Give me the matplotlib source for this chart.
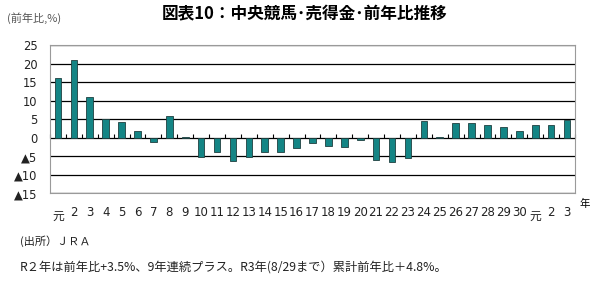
import matplotlib
matplotlib.use("Agg")
import matplotlib.pyplot as plt
import numpy as np

plt.rcParams['font.family'] = ['Noto Sans CJK JP', 'DejaVu Sans']

# Categories: Heisei 1..30, Reiwa 1..3
years = ["元"] + [str(i) for i in range(2, 31)] + ["元", "2", "3"]
yoy = [16.1, 21.0, 11.0, 5.0, 4.2, 1.8, -1.2, 5.9, 0.3, -5.2,
       -3.8, -6.3, -5.2, -3.9, -3.9, -2.7, -1.3, -2.2, -2.4, -0.5,
       -5.9, -6.6, -5.6, 4.5, 0.3, 3.9, 3.9, 3.4, 2.8, 1.8,
       3.3, 3.5, 4.8]
yticks = [25, 20, 15, 10, 5, 0, -5, -10, -15]
ytick_labels = ["25", "20", "15", "10", "5", "0", "▲5", "▲10", "▲15"]

TITLE = "図表10：中央競馬･売得金･前年比推移"
UNIT = "(前年比,%)"
SOURCE = "(出所）ＪＲＡ"
NOTE = "R２年は前年比+3.5%、9年連続プラス。R3年(8/29まで）累計前年比＋4.8%。"

fig = plt.figure(figsize=(6.0, 2.84), dpi=100)
ax = fig.add_axes([0.0833, 0.3194, 0.875, 0.5221])

x = np.arange(len(years))
ax.bar(x, yoy, width=0.42, color="#148585", edgecolor="#1f3f3f", linewidth=0.6, zorder=3)

ax.set_xlim(-0.5, len(years) - 0.5)
ax.set_ylim(-15, 25)
ax.yaxis.grid(True, color="black", linewidth=0.9, zorder=1)
ax.tick_params(axis="y", length=0, pad=9, labelsize=8.3, labelcolor="#222222")
ax.tick_params(axis="x", length=0, pad=9, labelsize=8.5, labelcolor="#222222")

ax.set_yticks(yticks)
ax.set_yticklabels(ytick_labels, family=['DejaVu Sans'])
ax.set_xticks(x)
ax.set_xticklabels(years, family=['DejaVu Sans', 'Noto Sans CJK JP'])
for lab, name in zip(ax.get_xticklabels(), years):
    if name == "元":
        lab.set_y(-0.025)

for s in ax.spines.values():
    s.set_color("#9a9a9a")
    s.set_linewidth(0.8)

# category axis at zero with small boundary ticks
zero_pos = (0 - (-15)) / 40
sec = ax.secondary_xaxis(zero_pos)
sec.set_xticks(np.arange(len(years) + 1) - 0.5)
sec.tick_params(axis="x", direction="in", length=3, width=0.8, color="black",
                labelbottom=False, labeltop=False)
sec.spines["bottom"].set_visible(False)
sec.spines["top"].set_visible(False)

fig.text(0.508, 0.95, TITLE, fontsize=12, fontweight="bold", ha="center", va="center")
fig.text(0.012, 0.935, UNIT, fontsize=8, color="#555555", ha="left", va="center")
fig.text(0.975, 0.283, "年", fontsize=7.5, ha="center", va="center")
fig.text(0.033, 0.152, SOURCE, fontsize=8, ha="left", va="center", color="#222222")
fig.text(0.033, 0.058, NOTE, fontsize=8.8, ha="left", va="center", color="#222222")

fig.savefig("out.png", dpi=100)
